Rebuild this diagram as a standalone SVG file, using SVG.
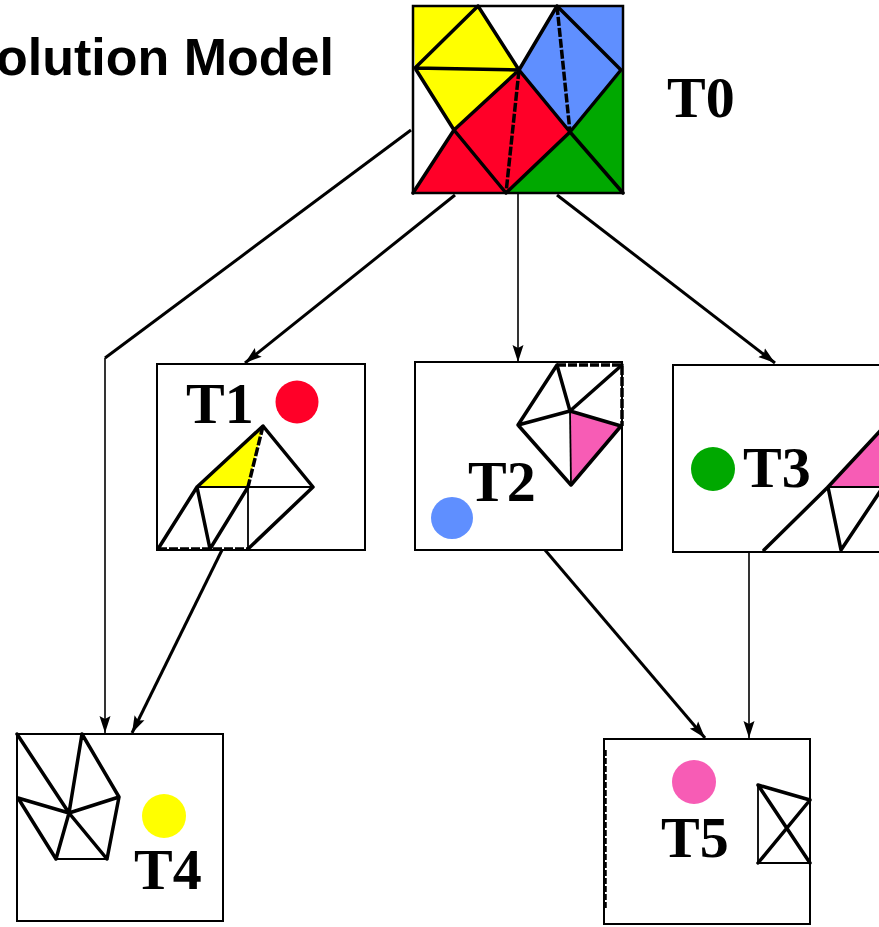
<svg xmlns="http://www.w3.org/2000/svg" width="879" height="927" viewBox="0 0 879 927">
  <style>
    .box { fill: #fff; stroke: #000; stroke-width: 2; }
    .edge { fill: none; stroke: #000; stroke-width: 3.5; stroke-linecap: round; stroke-linejoin: round; }
    .thin { fill: none; stroke: #000; stroke-width: 1.8; }
    .dash { fill: none; stroke: #000; stroke-width: 3.5; stroke-dasharray: 9 2; }
    .lbl { font-family: "Liberation Serif", "Times New Roman", serif; font-weight: bold; font-size: 58px; fill: #000; }
    .title { font-family: "Liberation Sans", Arial, sans-serif; font-weight: bold; font-size: 52px; fill: #000; }
    .conn { fill: none; stroke: #000; stroke-width: 3; }
    .conn-v { fill: none; stroke: #000; stroke-width: 1.6; }
  </style>
  <defs>
    <marker id="arrow" markerUnits="userSpaceOnUse" markerWidth="18" markerHeight="12" refX="17" refY="6" orient="auto">
      <path d="M0,0.5 L17,6 L0,11.5 L3,6 z" fill="#000"/>
    </marker>
  </defs>

  <rect width="879" height="927" fill="#fff"/>

  <text class="title" x="-4" y="75">olution Model</text>

  <!-- T0: full coloured mesh -->
  <g id="T0">
    <rect class="box" x="413" y="6" width="210" height="187"/>
    <polygon points="413,6 478,6 519,70 454,130 415,68" fill="#ffff00"/>
    <polygon points="557,6 623,6 623,70 570,132 519,70" fill="#5f8fff"/>
    <polygon points="454,130 519,70 570,132 506,193 413,193" fill="#ff0028"/>
    <polygon points="570,132 623,70 623,193 506,193" fill="#00a800"/>
    <rect x="413" y="6" width="210" height="187" fill="none" stroke="#000" stroke-width="2.5"/>
    <path class="edge" d="M478,6 L415,68 M478,6 L519,70 L570,132 M415,68 L519,70 M415,68 L454,130 L506,193 M519,70 L454,130 L413,193 M557,6 L519,70 M557,6 L621,70 L570,132 L506,193 M570,132 L623,193"/>
    <path class="dash" d="M519,70 L506,193 M557,6 L570,132"/>
    <text class="lbl" x="667" y="117">T0</text>
  </g>

  <!-- T1 -->
  <g id="T1">
    <rect class="box" x="157" y="364" width="208" height="186"/>
    <polygon points="197,487 263,426 248,487" fill="#ffff00"/>
    <path class="edge" d="M263,426 L197,487 M263,426 L313,487 L248,549 M197,487 L158,549 M197,487 L210,549 L248,487"/>
    <path class="dash" d="M263,426 L248,487 M158,549 L248,549"/>
    <path class="thin" d="M197,487 L313,487 M248,487 L248,549"/>
    <circle cx="297" cy="402" r="21.5" fill="#ff0028"/>
    <text class="lbl" x="186" y="423">T1</text>
  </g>

  <!-- T2 -->
  <g id="T2">
    <rect class="box" x="415" y="362" width="207" height="188"/>
    <polygon points="570,411 621,426 571,485" fill="#f75cb5"/>
    <path class="edge" d="M557,365 L518,425 L571,485 L621,426 L570,411 L518,425 M557,365 L570,411 L622,365"/>
    <path class="dash" d="M557,365 L622,365 L622,426"/>
    <path class="thin" d="M570,411 L571,485"/>
    <circle cx="452" cy="518" r="21" fill="#5f8fff"/>
    <text class="lbl" x="468" y="501">T2</text>
  </g>

  <!-- T3 (extends past right edge) -->
  <g id="T3">
    <path class="box" d="M881,365 L673,365 L673,552 L881,552"/>
    <polygon points="828,487 881,430 881,487" fill="#f75cb5"/>
    <path class="edge" d="M764,550 L828,487 L881,430 M828,487 L841,550 L881,490"/>
    <path class="thin" d="M828,487 L881,487"/>
    <circle cx="713" cy="469" r="22" fill="#00a800"/>
    <text class="lbl" x="743" y="487">T3</text>
  </g>

  <!-- T4 -->
  <g id="T4">
    <rect class="box" x="17" y="734" width="206" height="187"/>
    <path class="edge" d="M17,734 L69,813 L107,859 M82,734 L69,813 L56,859 M18,798 L69,813 L119,797 M82,734 L119,797 L107,859 M18,798 L56,859"/>
    <path class="thin" d="M56,859 L107,859"/>
    <circle cx="164" cy="816" r="22" fill="#ffff00"/>
    <text class="lbl" x="134" y="889">T4</text>
  </g>

  <!-- T5 -->
  <g id="T5">
    <rect class="box" x="604" y="739" width="206" height="185"/>
    <line x1="605" y1="750" x2="605" y2="910" stroke="#000" stroke-width="3.5" stroke-dasharray="6 2"/>
    <path class="edge" d="M758,785 L810,800 M758,785 L810,863 M758,863 L810,800"/>
    <path class="thin" d="M758,785 L758,863 L810,863"/>
    <circle cx="694" cy="782" r="22" fill="#f75cb5"/>
    <text class="lbl" x="661" y="857">T5</text>
  </g>

  <!-- connectors -->
  <g id="connectors">
    <path class="conn" d="M411,130 L105,358"/>
    <path class="conn-v" d="M105,358 L105,733" marker-end="url(#arrow)"/>
    <path class="conn" d="M455,195 L245,363" marker-end="url(#arrow)"/>
    <path class="conn-v" d="M518,193 L518,362" marker-end="url(#arrow)"/>
    <path class="conn" d="M557,195 L775,363" marker-end="url(#arrow)"/>
    <path class="conn" d="M222,550 L132,733" marker-end="url(#arrow)"/>
    <path class="conn" d="M545,550 L705,738" marker-end="url(#arrow)"/>
    <path class="conn-v" d="M749,552 L749,738" marker-end="url(#arrow)"/>
  </g>
</svg>
